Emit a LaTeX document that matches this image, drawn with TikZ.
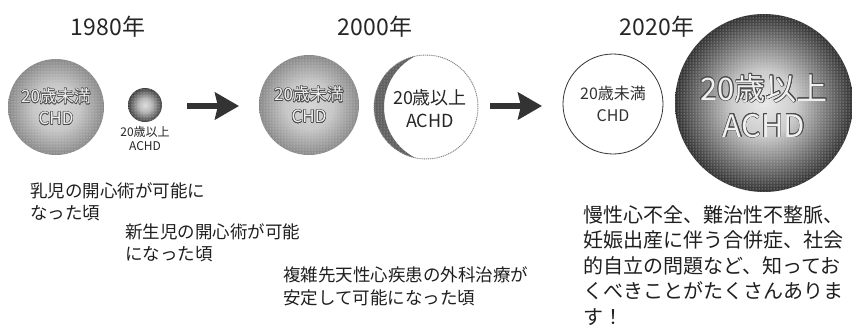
\documentclass[tikz,border=0pt]{standalone}
\usepackage{fontspec}
\setmainfont{Noto Sans CJK JP}
\usepackage[copies]{contour}
\contourlength{0.55pt}
\usetikzlibrary{arrows.meta,patterns}
\pgfdeclareradialshading{ballA}{\pgfpoint{0bp}{0bp}}{color(0bp)=(black!16); color(12bp)=(black!22); color(25bp)=(black!46); color(50bp)=(black!46)}
\pgfdeclareradialshading{ballS}{\pgfpoint{0bp}{0bp}}{color(0bp)=(black!12); color(10bp)=(black!28); color(25bp)=(black!75); color(50bp)=(black!75)}
\pgfdeclareradialshading{ballB}{\pgfpoint{0bp}{0bp}}{color(0bp)=(black!8); color(9bp)=(black!20); color(25bp)=(black!80); color(50bp)=(black!80)}
\newcommand\halo[1]{{\color{black!6}\contour{black!70}{#1}}}
\tikzset{
  yearlbl/.style={anchor=base, font=\fontsize{23}{23}\selectfont, text=black!85},
  ball/.style={circle, inner sep=0pt, align=center},
  bigarrow/.style={line width=5.5pt, black!80, -{Stealth[length=24pt,width=27pt,inset=3pt]}},
  note/.style={anchor=north west, align=left, inner sep=0pt, text=black!88},
}
\begin{document}
\begin{tikzpicture}[x=1pt,y=-1pt]
\useasboundingbox (0,0) rectangle (852,327);
\fill[white] (0,0) rectangle (852,327);

% years
\node[yearlbl] (y1) at (108,35) {1980年};
\node[yearlbl] (y2) at (375,35) {2000年};
\node[yearlbl] (y3) at (657,35) {2020年};

% 1980
\node[ball, minimum size=96pt, shading=ballA, font=\fontsize{17}{22}\selectfont] (c1) at (56,107) {\halo{20歳未満}\\\halo{CHD}};
\path[pattern=dots, pattern color=white!85!black] (c1.center) circle (48pt);
\node[ball, minimum size=34pt, shading=ballS] (c2) at (145,105) {};
\path[pattern=dots, pattern color=white!80!black] (c2.center) circle (17pt);
\node[align=center, inner sep=0pt, font=\fontsize{12}{14}\selectfont, text=black!85, anchor=north] (c2l) at (145,126) {20歳以上\\ACHD};

% 2000
\node[ball, minimum size=100pt, shading=ballA, font=\fontsize{17}{22}\selectfont] (c3) at (309,105) {};
\path[pattern=dots, pattern color=white!85!black] (c3.center) circle (50pt);
\node[ball, font=\fontsize{17}{22}\selectfont] at (c3.center) {\halo{20歳未満}\\\halo{CHD}};

\node[ball, minimum size=104pt, fill=white] (c4) at (426,107) {};
\begin{scope}
  \clip (c4.center) circle (52pt);
  \fill[black!62, even odd rule] (c4.center) circle (52pt) ([xshift=15pt]c4.center) circle (57pt);
  \path[pattern=dots, pattern color=white!80!black, even odd rule] (c4.center) circle (52pt) ([xshift=15pt]c4.center) circle (57pt);
\end{scope}
\draw[black!50, line width=0.9pt, densely dotted] (c4.center) circle (52pt);
\node[ball, font=\fontsize{18}{23}\selectfont, text=black!85] at ([xshift=4pt,yshift=-2pt]c4.center) {20歳以上\\ACHD};

% 2020
\node[ball, minimum size=100pt, draw=black!80, line width=0.8pt, font=\fontsize{16}{22}\selectfont, text=black!80] (c5) at (613,104) {20歳未満\\CHD};
\node[ball, minimum size=178pt, shading=ballB] (c6) at (764,103) {};
\path[pattern=dots, pattern color=white!85!black] (c6.center) circle (89pt);
\node[ball, font=\fontsize{31}{37}\selectfont] at ([yshift=-3pt]c6.center) {\halo{20歳以上}\\\halo{ACHD}};

% arrows
\coordinate (a1s) at (187,106);
\coordinate (a1e) at (239,106);
\coordinate (a2s) at (490,106);
\coordinate (a2e) at (542,106);
\draw[bigarrow] (a1s) -- (a1e);
\draw[bigarrow] (a2s) -- (a2e);

% notes
\node[note, font=\fontsize{17.5}{22}\selectfont] (n1) at (30,182) {乳児の開心術が可能に\\なった頃};
\node[note, font=\fontsize{17.5}{22.5}\selectfont] (n2) at (125,223) {新生児の開心術が可能\\になった頃};
\node[note, font=\fontsize{17.5}{23}\selectfont] (n3) at (283,266) {複雑先天性心疾患の外科治療が\\安定して可能になった頃};
\node[note, font=\fontsize{20}{25.5}\selectfont] (n4) at (583,205) {慢性心不全、難治性不整脈、\\妊娠出産に伴う合併症、社会\\的自立の問題など、知ってお\\くべきことがたくさんありま\\す！};
\end{tikzpicture}
\end{document}
